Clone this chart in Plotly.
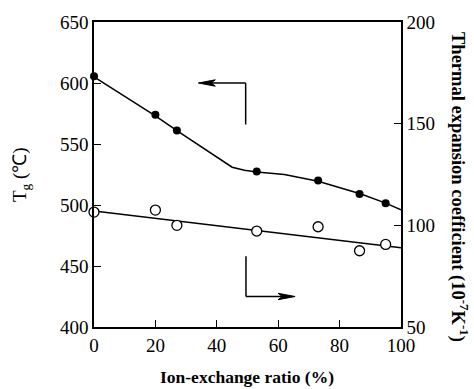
import plotly.graph_objects as go

# Data
x_ratio = [0, 20, 27, 53, 73, 86.5, 95]
tg = [605.5, 574, 561, 527.5, 520, 509, 501.5]
tec = [106.5, 107.5, 100, 97.2, 99.3, 87.5, 90.6]

# fitted curves drawn in the reference
fit_tg_x = [0, 20, 27, 45, 49, 53, 62, 73, 87, 95, 100]
fit_tg_y = [605, 573, 561, 531, 528.5, 527, 525, 519.5, 509, 501.5, 496]
fit_tec_x = [0, 100]
fit_tec_y = [107, 89]

FONT = "Liberation Serif"

W, H = 474, 389
L, R, T, B = 94, 73, 22, 62
pw, ph = W - L - R, H - T - B


def px2paper(px, py):
    return (px - L) / pw, 1 - (py - T) / ph


fig = go.Figure()
fig.add_trace(go.Scatter(x=fit_tg_x, y=fit_tg_y, mode="lines",
                         line=dict(color="black", width=1.5), showlegend=False))
fig.add_trace(go.Scatter(x=x_ratio, y=tg, mode="markers",
                         marker=dict(color="black", size=8, symbol="circle"),
                         showlegend=False, cliponaxis=False))
fig.add_trace(go.Scatter(x=fit_tec_x, y=fit_tec_y, mode="lines", yaxis="y2",
                         line=dict(color="black", width=1.5), showlegend=False))
fig.add_trace(go.Scatter(x=x_ratio, y=tec, mode="markers", yaxis="y2",
                         marker=dict(color="white", size=10, symbol="circle",
                                     line=dict(color="black", width=1.3)),
                         showlegend=False, cliponaxis=False))

# arrows (axis-indicator brackets)
shapes = [
    dict(type="line", xref="x", yref="y", x0=49.4, x1=49.4, y0=566, y1=600,
         line=dict(color="black", width=1.5)),
    dict(type="line", xref="x", yref="y", x0=49.4, x1=37, y0=600, y1=600,
         line=dict(color="black", width=1.5)),
    dict(type="path", xref="x", yref="y",
         path="M 34,600 L 39.5,602.6 L 38.2,600 L 39.5,597.4 Z",
         fillcolor="black", line=dict(color="black", width=1)),
    dict(type="line", xref="x", yref="y", x0=49.5, x1=49.5, y0=458, y1=425,
         line=dict(color="black", width=1.5)),
    dict(type="line", xref="x", yref="y", x0=49.5, x1=62, y0=425, y1=425,
         line=dict(color="black", width=1.5)),
    dict(type="path", xref="x", yref="y",
         path="M 65.5,425 L 60,427.6 L 61.3,425 L 60,422.4 Z",
         fillcolor="black", line=dict(color="black", width=1)),
]

annotations = []
lx, ly = px2paper(21, 175)
annotations.append(dict(x=lx, y=ly, xref="paper", yref="paper", xanchor="center", yanchor="middle",
                        text="T<sub>g</sub> (℃)", showarrow=False, textangle=-90,
                        font=dict(family=FONT, size=19, color="black")))
rx, ry = px2paper(460, 187)
annotations.append(dict(x=rx, y=ry, xref="paper", yref="paper", xanchor="center", yanchor="middle",
                        text="<b>Thermal expansion coefficient (10<sup>-7</sup>K<sup>-1</sup>)</b>",
                        showarrow=False, textangle=90,
                        font=dict(family=FONT, size=18.5, color="black")))
bx, by = px2paper(247, 377)
annotations.append(dict(x=bx, y=by, xref="paper", yref="paper", xanchor="center", yanchor="middle",
                        text="<b>Ion-exchange ratio (%)</b>", showarrow=False,
                        font=dict(family=FONT, size=17.5, color="black")))

fig.update_layout(
    width=W, height=H,
    margin=dict(l=L, r=R, t=T, b=B),
    paper_bgcolor="white", plot_bgcolor="white",
    font=dict(family=FONT, size=18, color="black"),
    shapes=shapes, annotations=annotations,
    xaxis=dict(range=[0, 100], tickvals=[0, 20, 40, 60, 80, 100], ticks="inside",
               ticklen=7, tickwidth=1.3, tickcolor="black", showline=True, linecolor="black",
               linewidth=1.5, mirror=True, showgrid=False, zeroline=False,
               tickfont=dict(family=FONT, size=19)),
    yaxis=dict(range=[400, 650], tickvals=[400, 450, 500, 550, 600, 650], ticks="inside",
               ticklen=7, tickwidth=1.3, tickcolor="black", showline=True, linecolor="black",
               linewidth=1.5, showgrid=False, zeroline=False,
               tickfont=dict(family=FONT, size=19)),
    yaxis2=dict(range=[50, 200], tickvals=[50, 100, 150, 200], ticks="inside",
                ticklen=7, tickwidth=1.3, tickcolor="black", showline=True, linecolor="black",
                linewidth=1.5, showgrid=False, zeroline=False, overlaying="y", side="right",
                tickfont=dict(family=FONT, size=19)),
)

fig.write_html("out.html")
